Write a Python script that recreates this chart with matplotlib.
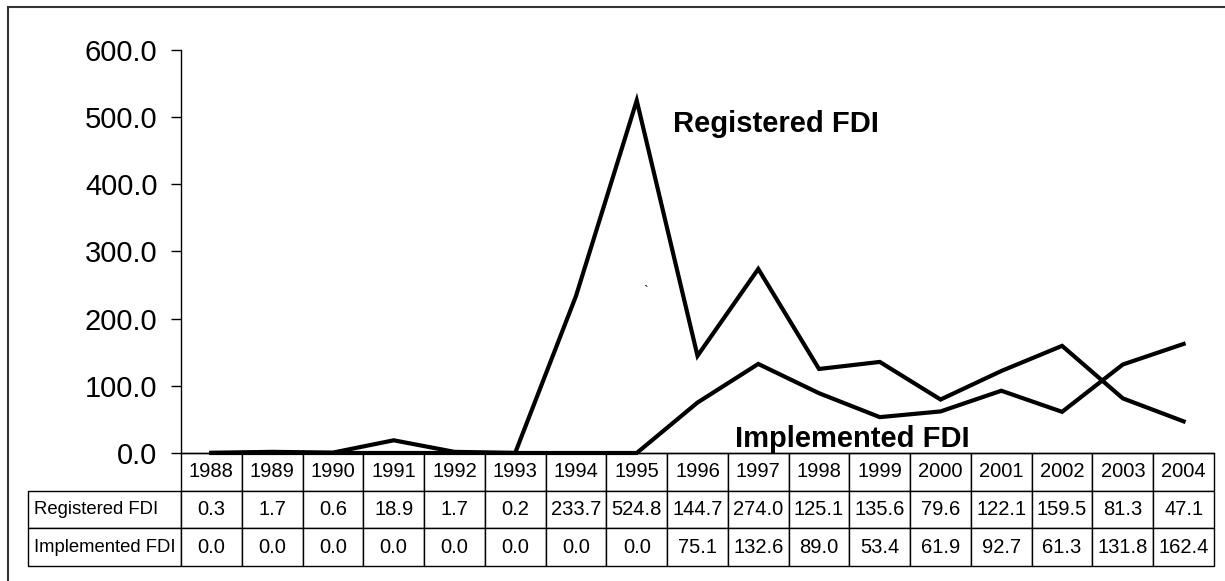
import matplotlib.pyplot as plt
from matplotlib.patches import Rectangle

plt.rcParams['font.family'] = ['Liberation Sans', 'DejaVu Sans']

years = ['1988', '1989', '1990', '1991', '1992', '1993', '1994', '1995', '1996',
         '1997', '1998', '1999', '2000', '2001', '2002', '2003', '2004']
registered = [0.3, 1.7, 0.6, 18.9, 1.7, 0.2, 233.7, 524.8, 144.7,
              274.0, 125.1, 135.6, 79.6, 122.1, 159.5, 81.3, 47.1]
implemented = [0.0, 0.0, 0.0, 0.0, 0.0, 0.0, 0.0, 0.0, 75.1,
               132.6, 89.0, 53.4, 61.9, 92.7, 61.3, 131.8, 162.4]
row_labels = ['Registered FDI', 'Implemented FDI']

fig = plt.figure(figsize=(12.25, 5.81), dpi=100)
ax = fig.add_axes([181 / 1225, 128 / 581, 1033 / 1225, 403 / 581])

x = list(range(len(years)))
ax.plot(x, registered, color='black', lw=3, solid_joinstyle='miter', clip_on=False)
ax.plot(x, implemented, color='black', lw=3, solid_joinstyle='miter', clip_on=False)

ax.set_xlim(-0.5, len(years) - 0.5)
ax.set_ylim(0, 600)
ax.set_yticks(range(0, 601, 100))
ax.set_yticklabels([f'{v:.1f}' for v in range(0, 601, 100)], fontsize=21)
ax.tick_params(axis='y', direction='out', length=7, width=1, pad=10)
ax.set_xticks([])
for s in ['top', 'right']:
    ax.spines[s].set_visible(False)
ax.spines['left'].set_linewidth(1)
ax.spines['bottom'].set_linewidth(1)

ax.text(7.6, 490, 'Registered FDI', fontsize=21, fontweight='bold', ha='left', va='center')
ax.text(8.62, 21, 'Implemented FDI', fontsize=21, fontweight='bold', ha='left', va='center',
        clip_on=False)
ax.text(7.14, 240, '`', fontsize=10, ha='center', va='center')

# data table under the axis (bbox covers the data cells only)
cells = [[f'{v:.1f}' for v in registered], [f'{v:.1f}' for v in implemented]]
lab_w = 153 / 1033
tbl = ax.table(cellText=cells, rowLabels=row_labels, colLabels=years,
               colWidths=[1 / len(years)] * len(years),
               cellLoc='center', rowLoc='left',
               bbox=[0, -113 / 403, 1, 113 / 403])
tbl._autoColumns = []
tbl.auto_set_font_size(False)
tbl.set_fontsize(14.5)
for (r, c), cell in tbl.get_celld().items():
    cell.set_linewidth(1)
    cell.set_edgecolor('black')
    if c == -1:
        cell.set_width(lab_w)
        cell.PAD = 0.04
        cell.get_text().set_fontsize(13.3)

# outer frame
fig.add_artist(Rectangle((8 / 1225, -0.5), 2, 0.5 + (581 - 7) / 581, transform=fig.transFigure,
                         fill=False, edgecolor='#333333', lw=1.5))

fig.savefig('out.png', dpi=100)
